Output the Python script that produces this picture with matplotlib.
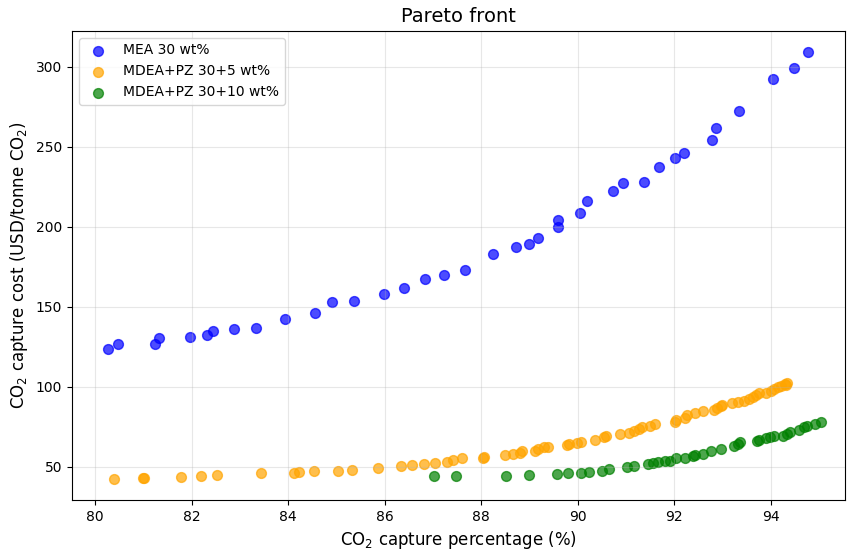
import numpy as np
import matplotlib
matplotlib.use('Agg')
import matplotlib.pyplot as plt

# MEA 30 wt%
mea_x = [80.26, 80.47, 81.24, 81.33, 81.97, 82.32, 82.44, 82.87, 83.33, 83.93,
         84.56, 84.91, 85.36, 85.98, 86.41, 86.84, 87.23, 87.67, 88.25, 88.72,
         88.99, 89.19, 89.6, 89.6, 90.06, 90.19, 90.74, 90.94, 91.37, 91.68,
         92.01, 92.2, 92.78, 92.87, 93.35, 94.06, 94.49, 94.77]
mea_y = [124.0, 126.7, 126.7, 130.6, 131.0, 132.5, 135.0, 136.3, 137.0, 142.3,
         146.3, 153.3, 153.5, 158.0, 161.7, 167.5, 169.8, 173.0, 183.0, 187.7,
         189.6, 193.3, 200.0, 204.4, 208.5, 216.2, 222.7, 227.3, 228.3, 237.7,
         243.0, 246.0, 254.0, 262.0, 272.7, 292.3, 299.0, 309.0]

# MDEA+PZ 30+5 wt%
pz5_x = [80.39, 80.99, 81.02, 81.78, 82.19, 82.53, 83.44, 84.13, 84.22, 84.54,
         85.04, 85.33, 85.87, 86.34, 86.57, 86.81, 87.05, 87.3, 87.42, 87.61,
         88.05, 88.06, 88.49, 88.66, 88.8, 88.85, 89.12, 89.18, 89.3, 89.39,
         89.79, 89.83, 89.99, 90.08, 90.37, 90.54, 90.58, 90.88, 91.06, 91.18,
         91.28, 91.33, 91.5, 91.61, 92.03, 92.04, 92.23, 92.26, 92.43, 92.6,
         92.83, 92.89, 92.97, 93.0, 93.21, 93.33, 93.45, 93.55, 93.64, 93.7,
         93.77, 93.91, 94.02, 94.07, 94.15, 94.22, 94.29, 94.33, 94.35]
pz5_y = [42.7, 43.1, 43.1, 43.5, 44.4, 44.8, 46.0, 46.3, 47.0, 47.5,
         47.7, 48.3, 49.2, 50.6, 51.3, 51.9, 52.5, 53.3, 54.4, 55.4,
         55.3, 56.5, 57.3, 58.1, 58.8, 60.0, 60.2, 61.5, 62.3, 62.7,
         63.8, 64.4, 65.0, 65.6, 67.1, 68.5, 69.4, 70.4, 71.3, 72.5,
         73.6, 74.8, 75.8, 77.0, 78.3, 79.4, 80.8, 82.3, 84.0, 84.8,
         85.6, 86.7, 88.1, 89.0, 89.8, 90.4, 91.5, 92.3, 94.0, 95.2,
         96.3, 96.5, 97.3, 98.6, 99.8, 100.8, 101.9, 101.5, 102.7]

# MDEA+PZ 30+10 wt%
pz10_x = [87.02, 87.47, 88.51, 88.99, 89.58, 89.8, 90.07, 90.23, 90.51, 90.65,
          91.02, 91.18, 91.46, 91.56, 91.66, 91.82, 91.92, 92.04, 92.23, 92.39,
          92.43, 92.59, 92.76, 92.97, 93.25, 93.32, 93.37, 93.72, 93.77, 93.91,
          93.98, 94.08, 94.25, 94.34, 94.4, 94.6, 94.7, 94.76, 94.93, 95.04]
pz10_y = [44.2, 44.6, 44.6, 45.0, 45.6, 46.0, 46.5, 47.1, 47.5, 48.5,
          49.8, 50.6, 51.7, 52.3, 53.1, 53.8, 53.8, 55.8, 55.8, 56.9,
          57.7, 58.1, 60.2, 61.3, 62.9, 64.4, 65.4, 66.5, 66.9, 67.8,
          68.6, 69.4, 69.4, 70.6, 71.9, 73.1, 74.8, 75.6, 76.9, 77.9]

fig = plt.figure(figsize=(8.47, 5.5), dpi=100)
ax = fig.add_axes([0.085, 0.091, 0.913, 0.853])

ax.scatter(mea_x, mea_y, s=50, color='blue', alpha=0.7, label='MEA 30 wt%')
ax.scatter(pz5_x, pz5_y, s=50, color='orange', alpha=0.7, label='MDEA+PZ 30+5 wt%')
ax.scatter(pz10_x, pz10_y, s=50, color='green', alpha=0.7, label='MDEA+PZ 30+10 wt%')

ax.set_xlim(79.52, 95.55)
ax.set_ylim(29.4, 322.5)
ax.set_xticks(np.arange(80, 96, 2))
ax.set_yticks(np.arange(50, 301, 50))
ax.grid(True, alpha=0.3)

ax.set_title('Pareto front', fontsize=14)
ax.set_xlabel('CO$_2$ capture percentage (%)', fontsize=12)
ax.set_ylabel('CO$_2$ capture cost (USD/tonne CO$_2$)', fontsize=12)
ax.legend(loc='upper left', fontsize=10)

fig.savefig('out.png', dpi=100)
